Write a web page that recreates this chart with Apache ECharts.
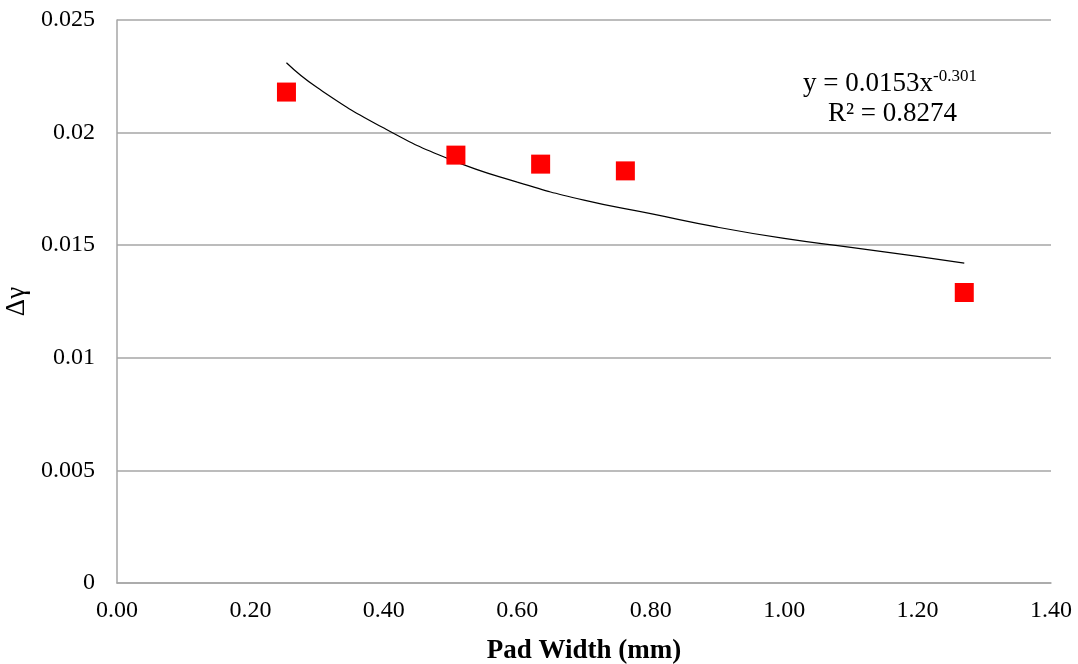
<!DOCTYPE html>
<html>
<head>
<meta charset="utf-8">
<script src="https://cdn.jsdelivr.net/npm/echarts@6/dist/echarts.min.js"></script>
<style>html,body{margin:0;padding:0;background:#fff}#c{width:1078px;height:664px}</style>
</head>
<body>
<div id="c"></div>
<script>
const padWidth = [0.254, 0.508, 0.635, 0.762, 1.27];
const deltaGamma = [0.0218, 0.0190, 0.0186, 0.0183, 0.0129];
const trendX = [0.254, 0.3, 0.4, 0.5, 0.6, 0.7, 0.8, 0.9, 1.0, 1.1, 1.2, 1.27];
const trendY = [0.0231, 0.0220, 0.0202, 0.0188, 0.0178, 0.0170, 0.0164, 0.0158, 0.0153, 0.0149, 0.0145, 0.0142];
const yTicks = [0, 0.005, 0.01, 0.015, 0.02, 0.025];

const font = '"Liberation Serif", "Times New Roman", serif';
const chart = echarts.init(document.getElementById('c'));
chart.setOption({
  animation: false,
  backgroundColor: '#fff',
  grid: {left: 117, right: 27, top: 20, bottom: 81, outerBoundsMode: 'none', containLabel: false},
  xAxis: {
    type: 'value', min: 0, max: 1.4, interval: 0.2,
    name: 'Pad Width (mm)', nameLocation: 'middle', nameGap: 55,
    nameTextStyle: {fontFamily: font, fontSize: 27, fontWeight: 'bold', color: '#000'},
    axisLine: {show: true, lineStyle: {color: '#a6a6a6', width: 1.5}},
    axisTick: {show: false},
    splitLine: {show: false},
    axisLabel: {fontFamily: font, fontSize: 24, color: '#000', margin: 16,
      formatter: v => v.toFixed(2)}
  },
  yAxis: {
    type: 'value', min: 0, max: 0.025, interval: 0.005,
    name: 'Δγ', nameLocation: 'middle', nameGap: 86, nameRotate: 90,
    nameTextStyle: {fontFamily: font, fontSize: 27, color: '#000'},
    axisLine: {show: true, lineStyle: {color: '#a6a6a6', width: 1.5}},
    axisTick: {show: false},
    splitLine: {show: true, lineStyle: {color: '#a6a6a6', width: 1.5}},
    axisLabel: {fontFamily: font, fontSize: 24, color: '#000', margin: 22,
      formatter: v => { const t = yTicks.find(k => Math.abs(k - v) < 1e-9); return String(t !== undefined ? t : v); }}
  },
  series: [
    {
      type: 'line', data: trendX.map((x, i) => [x, trendY[i]]),
      smooth: true, showSymbol: false, symbol: 'none',
      lineStyle: {color: '#000', width: 1.2}, z: 2
    },
    {
      type: 'scatter', data: padWidth.map((x, i) => [x, deltaGamma[i]]),
      symbol: 'rect', symbolSize: 19,
      itemStyle: {color: '#ff0000', opacity: 1}, z: 3
    }
  ],
  graphic: [
    {type: 'text', left: 803, top: 68, style: {
      rich: {
        n: {fontFamily: font, fontSize: 27, fill: '#000'},
        s: {fontFamily: font, fontSize: 17, fill: '#000', verticalAlign: 'top', padding: [0,0,14,0]}
      },
      text: '{n|y = 0.0153x}{s|-0.301}'
    }},
    {type: 'text', left: 828, top: 100, style: {
      text: 'R² = 0.8274', fontFamily: font, fontSize: 27, fill: '#000'
    }}
  ]
});
</script>
</body>
</html>
